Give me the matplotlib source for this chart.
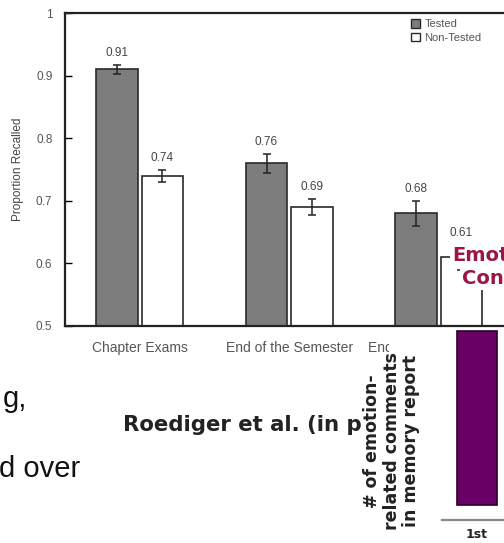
import matplotlib
matplotlib.use("Agg")
import matplotlib.pyplot as plt
import numpy as np
from matplotlib.patches import Patch

plt.rcParams['font.family'] = ['Liberation Sans', 'DejaVu Sans']

# data
categories = ['Chapter Exams', 'End of the Semester', 'End of the School Year']
tested = [0.91, 0.76, 0.68]
tested_err = [0.007, 0.015, 0.02]
non_tested = [0.74, 0.69, 0.61]
non_tested_err = [0.01, 0.013, 0.02]
emotion_labels = ['1st']
emotion_counts = [12]

W, H = 504, 543
fig = plt.figure(figsize=(W / 100, H / 100), dpi=100)
fig.patch.set_facecolor('white')

def fx(x):
    return x / W

def fy(y):
    return 1 - y / H

# main bar chart (runs off the right edge like the slide)
ax = fig.add_axes([fx(65), fy(326), 448.5 / W, (326 - 13) / H])
x = np.arange(len(categories))
bw = 0.275
off = 0.152
edge = '#2a2a2a'
ax.bar(x - off, tested, bw, color='#7d7d7d', edgecolor=edge, linewidth=1.2,
       yerr=tested_err, error_kw=dict(ecolor='#222222', capsize=3, elinewidth=1.1, capthick=1.1))
ax.bar(x + off, non_tested, bw, color='white', edgecolor=edge, linewidth=1.2,
       yerr=non_tested_err, error_kw=dict(ecolor='#222222', capsize=3, elinewidth=1.1, capthick=1.1))

for xs, vals, errs in [(x - off, tested, tested_err), (x + off, non_tested, non_tested_err)]:
    for xi, v, e in zip(xs, vals, errs):
        ax.annotate(f'{v:.2f}', (xi, v + e), xytext=(0, 8.5), textcoords='offset points',
                    ha='center', va='center', fontsize=8.5, color='#444444')

ax.set_xlim(-0.5, 2.5)
ax.set_ylim(0.5, 1.0)
ax.set_yticks([0.5, 0.6, 0.7, 0.8, 0.9, 1.0])
ax.set_yticklabels(['0.5', '0.6', '0.7', '0.8', '0.9', '1'])
ax.set_xticks(x)
ax.set_xticklabels(categories)
ax.tick_params(axis='y', direction='in', length=5, width=1, pad=9, labelsize=8.5, labelcolor='#555555')
ax.tick_params(axis='x', length=0, pad=10.5, labelsize=10, labelcolor='#555555')
for s in ['left', 'top', 'bottom', 'right']:
    ax.spines[s].set_linewidth(1.6)
    ax.spines[s].set_color('#222222')
ax.set_ylabel('Proportion Recalled', fontsize=8.5, color='#444444')
ax.yaxis.set_label_coords((24 - 65) / 448.5, 0.5)

handles = [Patch(facecolor='#7d7d7d', edgecolor=edge), Patch(facecolor='white', edgecolor=edge)]
fig.legend(handles, ['Tested', 'Non-Tested'], loc='upper left', bbox_to_anchor=(fx(411), fy(19)),
           frameon=False, fontsize=8, handlelength=0.85, handleheight=0.85, handletextpad=0.35,
           labelspacing=0.3, borderpad=0, borderaxespad=0, labelcolor='#555555')

# pasted-over second chart (purple bar)
ax2 = fig.add_axes([fx(389), fy(520), (540 - 389) / W, (520 - 329) / H])
ax2.set_facecolor('white')
ax2.bar([0], emotion_counts, 40 / 60, color='#680066', edgecolor='#2a002a', linewidth=1.2)
ax2.set_xlim(-(477 - 389) / 60, (540 - 477) / 60)
ax2.set_ylim(-(520 - 505) / 14.5, (505 - 329) / 14.5)
ax2.set_xticks([0])
ax2.set_xticklabels(emotion_labels, fontweight='bold', family='DejaVu Sans')
ax2.set_yticks([])
ax2.tick_params(axis='x', length=0, pad=6, labelsize=9, labelcolor='#222222')
for s in ['left', 'top', 'right']:
    ax2.spines[s].set_visible(False)
ax2.spines['bottom'].set_color('#888888')
ax2.spines['bottom'].set_linewidth(1.6)
ax2.spines['bottom'].set_bounds(-(477 - 442) / 60, (540 - 477) / 60)
ax2.set_ylabel('# of emotion-\nrelated comments\nin memory report', fontsize=12.5,
               fontweight='bold', family='DejaVu Sans', color='#222222', linespacing=1.1)
ax2.yaxis.set_label_coords((420 - 389) / 151, (520 - 441) / 191)

# slide text around the chart
fig.text(fx(27), fy(407), 'g,', fontsize=21, ha='right', va='baseline', color='#111111')
fig.text(fx(-1), fy(477), 'd over', fontsize=21, ha='left', va='baseline', color='#111111')
fig.text(fx(123), fy(431), 'Roediger et al. (in p', fontsize=15.3, fontweight='bold',
         family='DejaVu Sans', ha='left', va='baseline', color='#222222', zorder=-1)

red = '#9c1448'
fig.text(fx(452), fy(261), 'Emotional', fontsize=14, fontweight='bold', family='DejaVu Sans',
         ha='left', va='baseline', color=red,
         bbox=dict(facecolor='white', edgecolor='none', pad=1.5), zorder=5)
fig.text(fx(462), fy(284), 'Content', fontsize=14, fontweight='bold', family='DejaVu Sans',
         ha='left', va='baseline', color=red,
         bbox=dict(facecolor='white', edgecolor='none', pad=1.5), zorder=5)

fig.savefig('out.png', dpi=100, facecolor='white')
